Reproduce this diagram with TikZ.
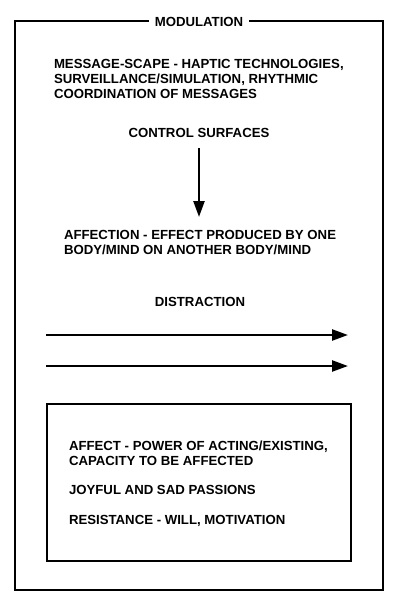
\documentclass[tikz,border=0pt]{standalone}
\usepackage{fontspec}
\setmainfont{Liberation Sans}
\usetikzlibrary{arrows.meta}

\begin{document}
\begin{tikzpicture}[x=1pt, y=-1pt, line width = 2pt,
  lbl/.style={font=\fontsize{13.2}{15}\selectfont\bfseries, inner sep=0pt, align=left},
  frame/.style={draw, line width=2pt},
  flow/.style={-{Triangle[length=16pt, width=11pt]}, line width=2.4pt}]
 \useasboundingbox (0,0) rectangle (400,607);

 % outer frame and its title
 \draw [frame] (14.5,21.5) rectangle (383,590);
 \node [lbl, fill=white, inner xsep=6pt, inner ysep=2pt] (modulation) at (199,22) {MODULATION};

 % upper texts
 \node [lbl, anchor=north west] (scape) at (53,58.5)
   {MESSAGE-SCAPE - HAPTIC TECHNOLOGIES,\\SURVEILLANCE/SIMULATION, RHYTHMIC\\COORDINATION OF MESSAGES};
 \node [lbl] (control) at (199,133) {CONTROL SURFACES};
 \node [lbl, anchor=north west] (affection) at (63,229.5)
   {AFFECTION - EFFECT PRODUCED BY ONE\\BODY/MIND ON ANOTHER BODY/MIND};
 \node [lbl] (distraction) at (200,302) {DISTRACTION};

 % control surfaces down to affection
 \coordinate (c1) at (199,148);
 \coordinate (c2) at (199,217);
 \draw [flow] (c1) -- (c2);
 \coordinate (d1) at (46,335);
 \coordinate (d2) at (348,335);
 \coordinate (d3) at (46,366);
 \coordinate (d4) at (348,366);
 \draw [flow] (d1) -- (d2);
 \draw [flow] (d3) -- (d4);

 % inner box
 \draw [frame] (47,404) rectangle (351,561);
 \node [lbl, anchor=north west] (affect) at (68,439.5)
   {AFFECT - POWER OF ACTING/EXISTING,\\CAPACITY TO BE AFFECTED};
 \node [lbl, anchor=west] (joyful) at (68,490) {JOYFUL AND SAD PASSIONS};
 \node [lbl, anchor=west] (resistance) at (68,521) {RESISTANCE - WILL, MOTIVATION};
\end{tikzpicture}
\end{document}
